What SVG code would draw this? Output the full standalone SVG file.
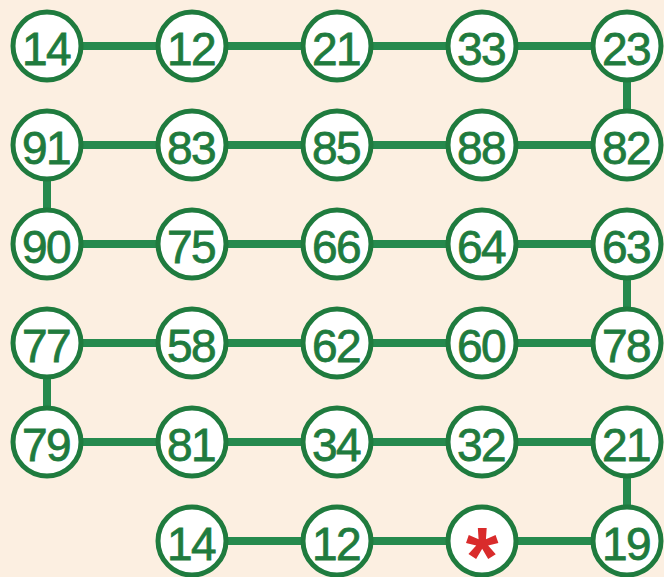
<svg xmlns="http://www.w3.org/2000/svg" width="664" height="577" viewBox="0 0 664 577">
<style>
.n circle{fill:#fff;stroke:#1f7b3e;stroke-width:5}
.n text{font-family:"Liberation Sans",Arial,sans-serif;font-size:46px;fill:#1f7b3e;stroke:#1f7b3e;stroke-width:0.8;text-anchor:middle;letter-spacing:-1.5px}
.e line{stroke:#268a4e;stroke-width:8}
.n text.ast{font-family:"Liberation Sans",Arial,sans-serif;font-weight:bold;font-size:84px;fill:#d92b2b;stroke:none;text-anchor:middle;letter-spacing:0}
</style>
<rect width="664" height="577" fill="#fcefe1"/>
<g id="connectors" class="e">
<line x1="47" y1="46" x2="627" y2="46"/>
<line x1="47" y1="145" x2="627" y2="145"/>
<line x1="47" y1="244" x2="627" y2="244"/>
<line x1="47" y1="343" x2="627" y2="343"/>
<line x1="47" y1="442" x2="627" y2="442"/>
<line x1="192" y1="541" x2="627" y2="541"/>
<line x1="627" y1="46" x2="627" y2="145"/>
<line x1="47" y1="145" x2="47" y2="244"/>
<line x1="627" y1="244" x2="627" y2="343"/>
<line x1="47" y1="343" x2="47" y2="442"/>
<line x1="627" y1="442" x2="627" y2="541"/>
</g>
<g id="n1" class="n"><circle cx="47" cy="46" r="34"/><text x="46" y="65">14</text></g>
<g id="n2" class="n"><circle cx="192" cy="46" r="34"/><text x="191" y="65">12</text></g>
<g id="n3" class="n"><circle cx="337" cy="46" r="34"/><text x="336" y="65">21</text></g>
<g id="n4" class="n"><circle cx="482" cy="46" r="34"/><text x="481" y="65">33</text></g>
<g id="n5" class="n"><circle cx="627" cy="46" r="34"/><text x="626" y="65">23</text></g>
<g id="n6" class="n"><circle cx="47" cy="145" r="34"/><text x="46" y="164">91</text></g>
<g id="n7" class="n"><circle cx="192" cy="145" r="34"/><text x="191" y="164">83</text></g>
<g id="n8" class="n"><circle cx="337" cy="145" r="34"/><text x="336" y="164">85</text></g>
<g id="n9" class="n"><circle cx="482" cy="145" r="34"/><text x="481" y="164">88</text></g>
<g id="n10" class="n"><circle cx="627" cy="145" r="34"/><text x="626" y="164">82</text></g>
<g id="n11" class="n"><circle cx="47" cy="244" r="34"/><text x="46" y="263">90</text></g>
<g id="n12" class="n"><circle cx="192" cy="244" r="34"/><text x="191" y="263">75</text></g>
<g id="n13" class="n"><circle cx="337" cy="244" r="34"/><text x="336" y="263">66</text></g>
<g id="n14" class="n"><circle cx="482" cy="244" r="34"/><text x="481" y="263">64</text></g>
<g id="n15" class="n"><circle cx="627" cy="244" r="34"/><text x="626" y="263">63</text></g>
<g id="n16" class="n"><circle cx="47" cy="343" r="34"/><text x="46" y="362">77</text></g>
<g id="n17" class="n"><circle cx="192" cy="343" r="34"/><text x="191" y="362">58</text></g>
<g id="n18" class="n"><circle cx="337" cy="343" r="34"/><text x="336" y="362">62</text></g>
<g id="n19" class="n"><circle cx="482" cy="343" r="34"/><text x="481" y="362">60</text></g>
<g id="n20" class="n"><circle cx="627" cy="343" r="34"/><text x="626" y="362">78</text></g>
<g id="n21" class="n"><circle cx="47" cy="442" r="34"/><text x="46" y="461">79</text></g>
<g id="n22" class="n"><circle cx="192" cy="442" r="34"/><text x="191" y="461">81</text></g>
<g id="n23" class="n"><circle cx="337" cy="442" r="34"/><text x="336" y="461">34</text></g>
<g id="n24" class="n"><circle cx="482" cy="442" r="34"/><text x="481" y="461">32</text></g>
<g id="n25" class="n"><circle cx="627" cy="442" r="34"/><text x="626" y="461">21</text></g>
<g id="n26" class="n"><circle cx="192" cy="541" r="34"/><text x="191" y="560">14</text></g>
<g id="n27" class="n"><circle cx="337" cy="541" r="34"/><text x="336" y="560">12</text></g>
<g id="n28" class="n"><circle cx="482" cy="541" r="34"/><text class="ast" x="482" y="586">*</text></g>
<g id="n29" class="n"><circle cx="627" cy="541" r="34"/><text x="626" y="560">19</text></g>
</svg>
